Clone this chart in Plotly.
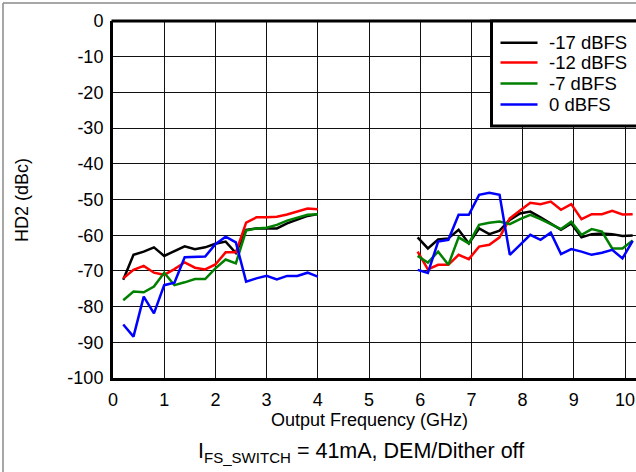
import plotly.graph_objects as go

# Frequencies (GHz)
freq_low = [0.2, 0.4, 0.6, 0.8, 1.0, 1.2, 1.4, 1.6, 1.8, 2.0,
            2.2, 2.4, 2.6, 2.8, 3.0, 3.2, 3.4, 3.6, 3.8, 4.0]
freq_high = [5.95, 6.15, 6.35, 6.55, 6.75, 6.95, 7.15, 7.35, 7.55, 7.75, 7.95,
             8.15, 8.35, 8.55, 8.75, 8.95, 9.15, 9.35, 9.55, 9.75, 9.95, 10.15]

series_names = ["-17 dBFS", "-12 dBFS", "-7 dBFS", "0 dBFS"]
series_colors = ["#000000", "#ff0000", "#008000", "#0000ff"]

# HD2 (dBc) values
m17_low = [-72.5, -65.5, -64.6, -63.4, -65.8, -64.5, -63.1, -63.9, -63.4, -62.4,
           -61.8, -65.0, -58.5, -58.1, -58.1, -58.1, -56.7, -55.6, -54.6, -54.1]
m17_high = [-60.6, -63.7, -61.2, -60.9, -58.5, -62.3, -58.1, -59.7, -58.7, -55.7, -53.9,
            -53.4, -55.0, -56.7, -58.5, -56.7, -60.6, -59.7, -59.5, -59.7, -60.2, -60.1]

m12_low = [-72.1, -69.7, -68.6, -70.5, -71.1, -69.5, -67.6, -69.1, -69.6, -68.2,
           -64.8, -64.8, -56.5, -55.0, -55.0, -54.8, -54.2, -53.4, -52.5, -52.7]
m12_high = [-64.6, -69.6, -68.3, -68.3, -65.5, -66.7, -63.2, -62.7, -60.6, -55.3, -53.1,
            -50.9, -51.3, -50.6, -52.9, -51.3, -55.5, -54.1, -54.1, -53.2, -54.2, -54.1]

m7_low = [-78.2, -75.8, -76.0, -74.4, -70.5, -74.0, -73.2, -72.3, -72.3, -69.3,
          -66.8, -67.9, -58.7, -58.1, -57.9, -57.1, -55.9, -55.0, -54.3, -54.1]
m7_high = [-65.8, -67.7, -64.6, -68.3, -60.6, -62.3, -57.1, -56.5, -56.2, -56.9, -55.5,
           -54.3, -55.5, -56.9, -58.3, -56.2, -59.9, -58.3, -59.0, -63.7, -63.7, -61.5]

z0_low = [-85.0, -88.4, -77.2, -81.9, -74.0, -73.3, -66.2, -66.0, -66.0, -62.5,
          -60.4, -62.0, -73.0, -72.1, -71.4, -72.4, -71.4, -71.4, -70.5, -71.6]
z0_high = [-69.7, -70.6, -61.8, -61.3, -54.3, -54.3, -48.7, -48.1, -48.7, -65.5, -62.7,
           -59.9, -61.3, -59.3, -65.3, -63.9, -64.6, -65.5, -64.9, -64.1, -66.5, -61.6]

x_ticks = [0, 1, 2, 3, 4, 5, 6, 7, 8, 9, 10]
y_ticks = [0, -10, -20, -30, -40, -50, -60, -70, -80, -90, -100]

low_vals = [m17_low, m12_low, m7_low, z0_low]
high_vals = [m17_high, m12_high, m7_high, z0_high]

FONT = "Liberation Sans, Arial, Helvetica, sans-serif"

W, H = 636, 472
ml, mt, mb = 113, 21, 94
plot_w = W - ml
plot_h = H - mt - mb


def px_x(p):
    return (p - ml) / plot_w


def px_y(p):
    return (H - mb - p) / plot_h


fig = go.Figure()
for name, color, lo, hi in zip(series_names, series_colors, low_vals, high_vals):
    fig.add_trace(go.Scatter(
        x=freq_low + [None] + freq_high,
        y=lo + [None] + hi,
        mode="lines",
        name=name,
        line=dict(color=color, width=2.5),
        connectgaps=False,
        showlegend=False,
    ))

shapes = [
    # top border of plot
    dict(type="line", xref="paper", yref="paper", x0=px_x(111.5), x1=1.0, y0=1, y1=1,
         line=dict(color="black", width=3)),
    # outer frame (left and top)
    dict(type="line", xref="paper", yref="paper",
         x0=px_x(3), x1=px_x(3), y0=px_y(3), y1=px_y(480),
         line=dict(color="#8a8a8a", width=1.5)),
    dict(type="line", xref="paper", yref="paper",
         x0=px_x(3), x1=px_x(650), y0=px_y(3), y1=px_y(3),
         line=dict(color="#8a8a8a", width=1.5)),
    # legend box
    dict(type="rect", xref="paper", yref="paper",
         x0=px_x(491.5), x1=px_x(660), y0=px_y(21), y1=px_y(126),
         fillcolor="white", line=dict(color="black", width=3), layer="above"),
]

annotations = [
    dict(text="Output Frequency (GHz)", xref="x", yref="paper", x=5,
         y=px_y(419.5), xanchor="center", yanchor="middle",
         showarrow=False, font=dict(family=FONT, size=18)),
    dict(text="I<sub>FS_SWITCH</sub> = 41mA, DEM/Dither off", xref="x", yref="paper",
         x=4.85, y=px_y(453), xanchor="center", yanchor="middle",
         showarrow=False, font=dict(family=FONT, size=21.5)),
    dict(text="HD2 (dBc)", xref="paper", yref="paper", x=px_x(22),
         y=px_y(200), xanchor="center", yanchor="middle",
         textangle=-90, showarrow=False, font=dict(family=FONT, size=18)),
]

# legend entries (key line + label), one per series
legend_rows = [42.7, 62.5, 83.5, 104.5]
for name, color, row in zip(series_names, series_colors, legend_rows):
    shapes.append(dict(type="line", xref="paper", yref="paper",
                       x0=px_x(500.5), x1=px_x(537.5), y0=px_y(row), y1=px_y(row),
                       line=dict(color=color, width=2.5), layer="above"))
    annotations.append(dict(text=name, xref="paper", yref="paper",
                            x=px_x(547), y=px_y(row), xanchor="left", yanchor="middle",
                            showarrow=False, font=dict(family=FONT, size=18.5)))

fig.update_layout(
    width=W, height=H,
    margin=dict(l=ml, r=0, t=mt, b=mb, autoexpand=False),
    paper_bgcolor="white",
    plot_bgcolor="white",
    font=dict(family=FONT, size=18, color="black"),
    showlegend=False,
    xaxis=dict(
        range=[0, plot_w / 51.2],
        tickmode="array", tickvals=x_ticks, ticktext=[str(v) for v in x_ticks],
        showgrid=True, gridcolor="#111111", gridwidth=1,
        showline=True, linecolor="black", linewidth=3,
        zeroline=False, ticks="", ticklabelstandoff=3,
        tickfont=dict(family=FONT, size=18),
    ),
    yaxis=dict(
        range=[-100, 0],
        tickmode="array", tickvals=y_ticks, ticktext=[str(v) for v in y_ticks],
        showgrid=True, gridcolor="#111111", gridwidth=1,
        showline=True, linecolor="black", linewidth=3,
        zeroline=False, ticks="", ticklabelstandoff=3,
        tickfont=dict(family=FONT, size=18),
    ),
    shapes=shapes,
    annotations=annotations,
)

fig.write_html("out.html",
               config={"displayModeBar": False},
               post_script="document.body.style.margin='0px';document.body.style.padding='0px';")
